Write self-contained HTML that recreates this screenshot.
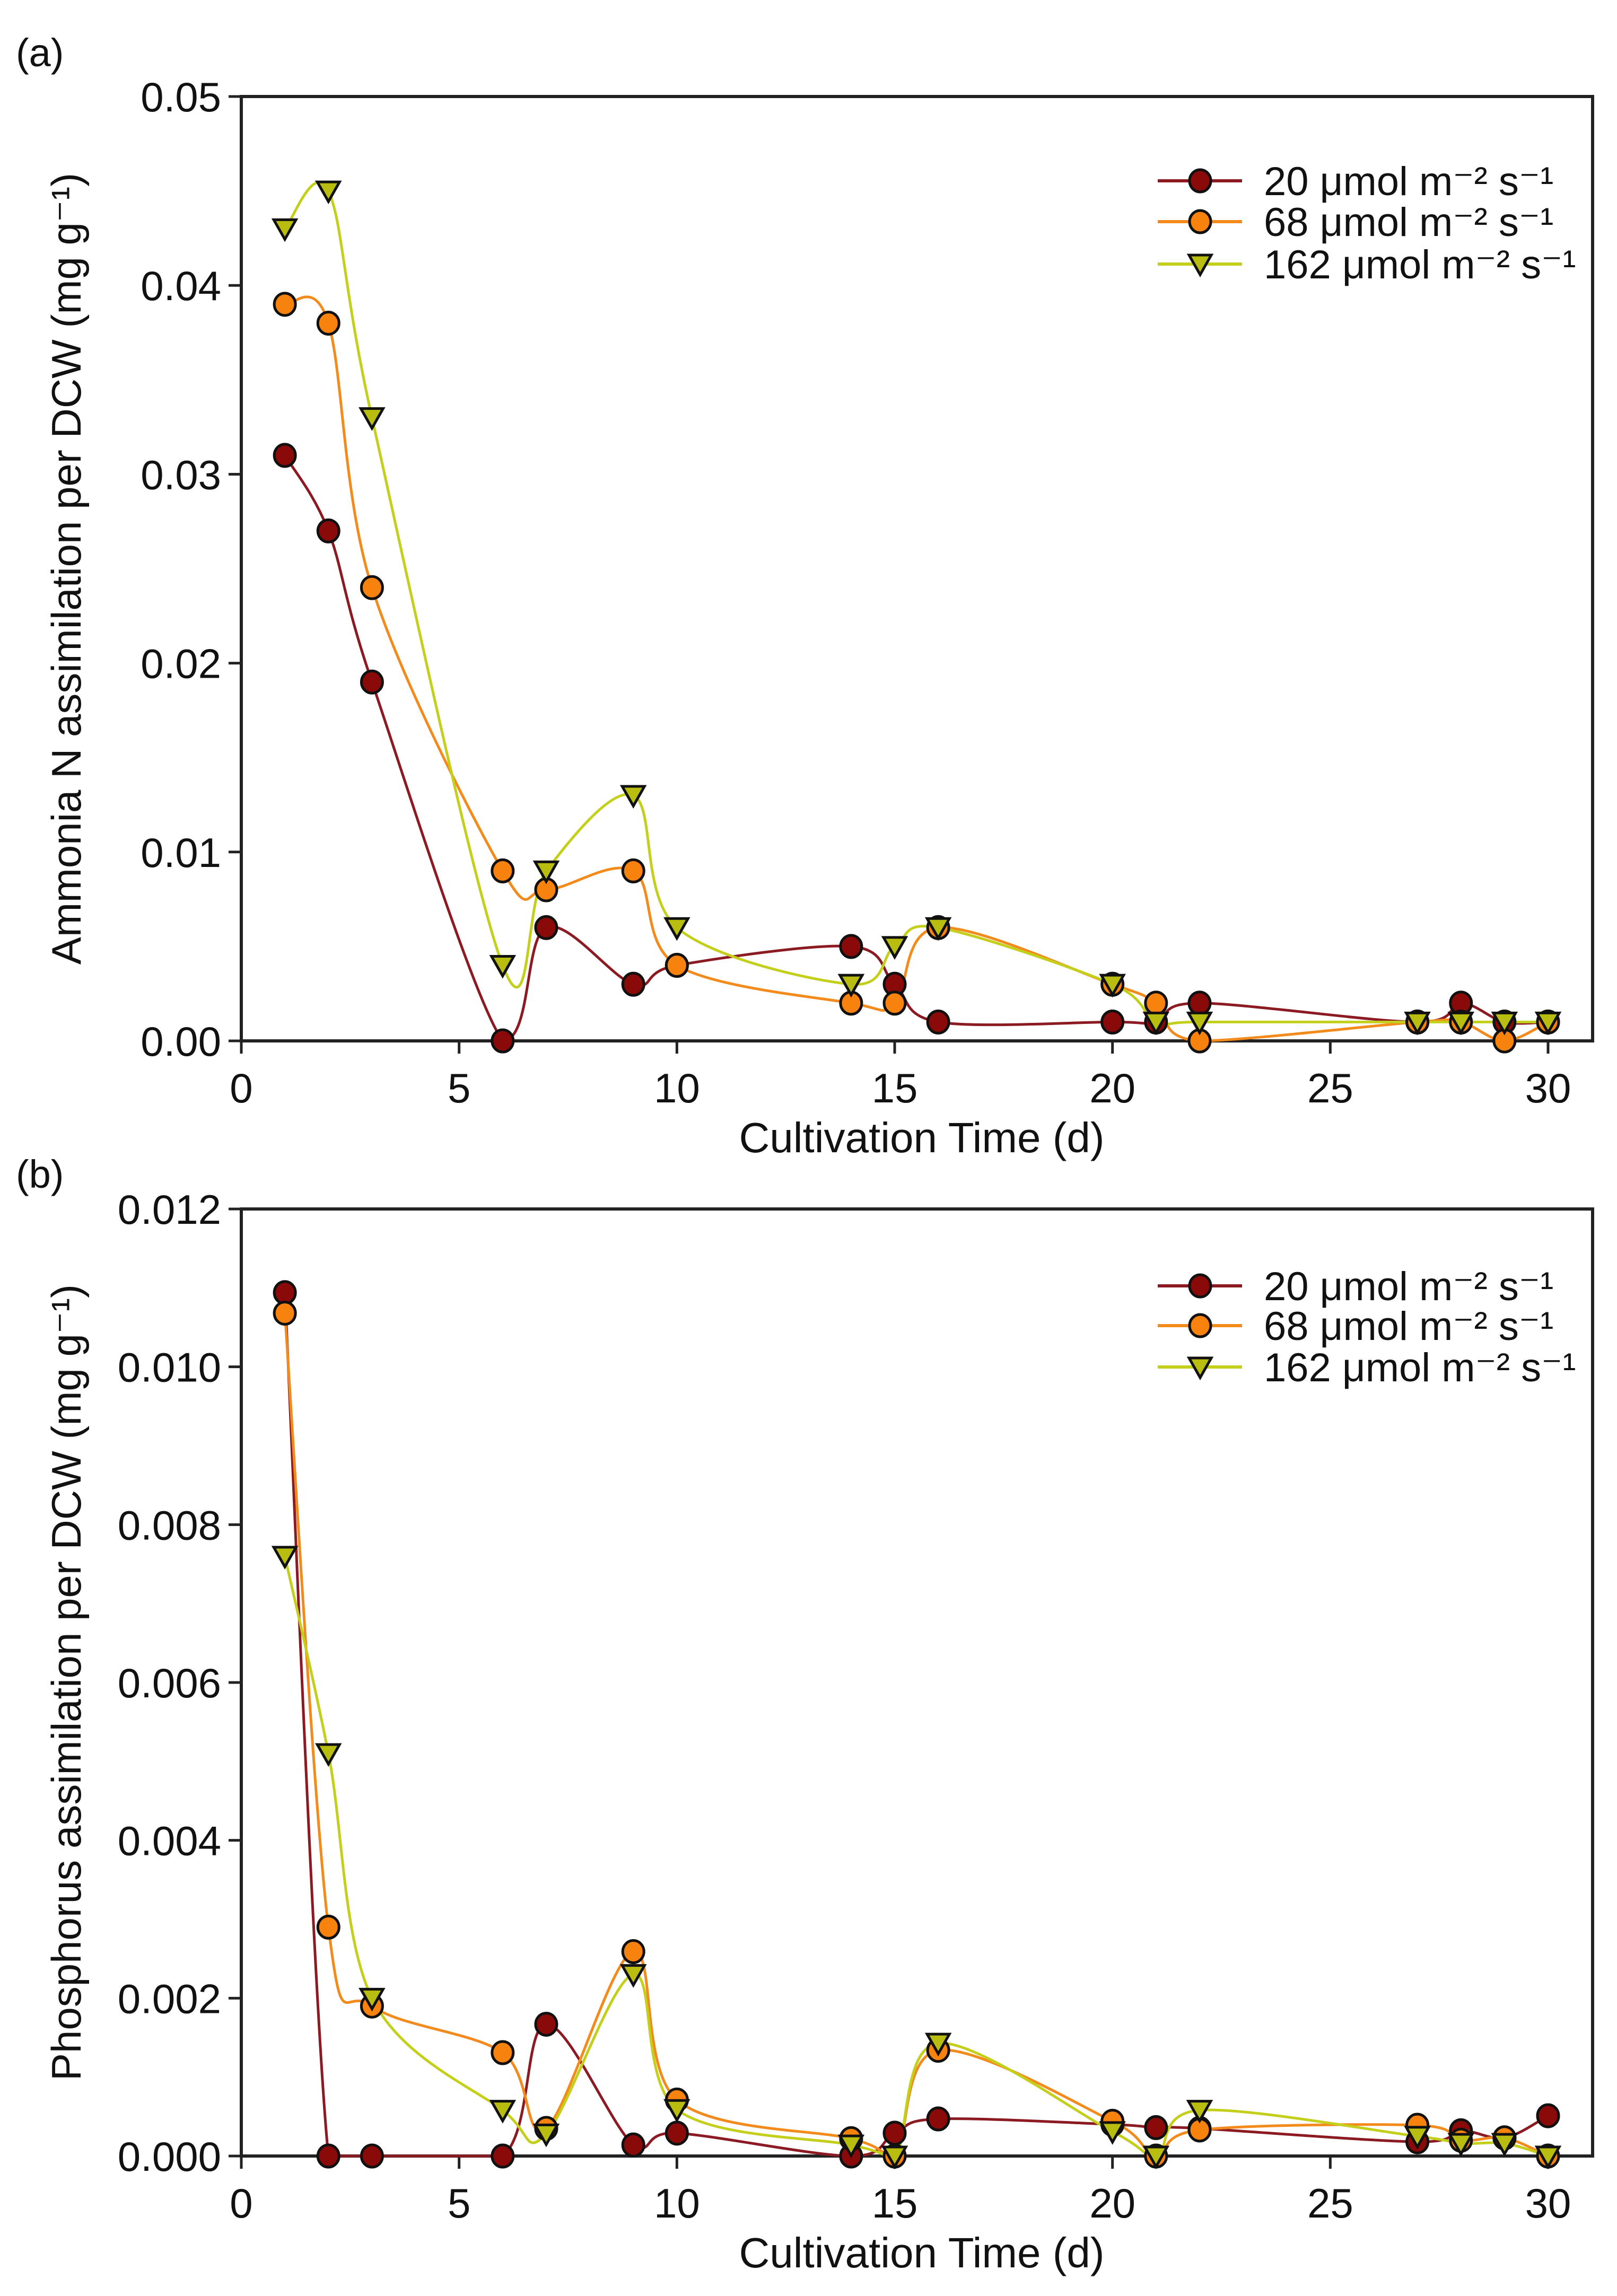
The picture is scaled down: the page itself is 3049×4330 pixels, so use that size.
<!DOCTYPE html>
<html><head><meta charset="utf-8"><style>
html,body{margin:0;padding:0;background:#fff}
svg{display:block}
text{font-family:"Liberation Sans",sans-serif;fill:#111}
</style></head><body>
<svg id="chart" width="3049" height="4330" viewBox="0 0 3049 4330" xmlns="http://www.w3.org/2000/svg"></svg>
<script>
// ---- data ----
const days20a = [1,2,3,6,7,9,10,14,15,16,20,21,22,27,28,29,30];
const vals20a = [0.031,0.027,0.019,0,0.006,0.003,0.004,0.005,0.003,0.001,0.001,0.001,0.002,0.001,0.002,0.001,0.001];
const days68a = [1,2,3,6,7,9,10,14,15,16,20,21,22,27,28,29,30];
const vals68a = [0.039,0.038,0.024,0.009,0.008,0.009,0.004,0.002,0.002,0.006,0.003,0.002,0,0.001,0.001,0,0.001];
const days162a = [1,2,3,6,7,9,10,14,15,16,20,21,22,27,28,29,30];
const vals162a = [0.043,0.045,0.033,0.004,0.009,0.013,0.006,0.003,0.005,0.006,0.003,0.001,0.001,0.001,0.001,0.001,0.001];

const days20b = [1,2,3,6,7,9,10,14,15,16,20,21,22,27,28,29,30];
const vals20b = [0.01094,0,0,0,0.00167,0.00014,0.00029,0,0.00029,0.00047,0.0004,0.00036,0.00035,0.00018,0.00032,0.00023,0.00051];
const days68b = [1,2,3,6,7,9,10,14,15,16,20,21,22,27,28,29,30];
const vals68b = [0.01068,0.0029,0.0019,0.00131,0.00035,0.00259,0.00071,0.00022,0,0.00134,0.00044,0,0.00033,0.00039,0.0002,0.00023,0];
const days162b = [1,2,3,6,7,9,10,14,15,16,20,21,22,27,28,29,30];
const vals162b = [0.0076,0.0051,0.002,0.00058,0.00028,0.0023,0.00059,0.00014,0,0.00143,0.00031,0,0.00058,0.00025,0.00016,0.00016,0];

const xTicks = [0,5,10,15,20,25,30];
const yTicksA = [0,0.01,0.02,0.03,0.04,0.05];
const yLabelsA = ["0.00","0.01","0.02","0.03","0.04","0.05"];
const yTicksB = [0,0.002,0.004,0.006,0.008,0.010,0.012];
const yLabelsB = ["0.000","0.002","0.004","0.006","0.008","0.010","0.012"];
const legendLabels = ["20 μmol m⁻² s⁻¹","68 μmol m⁻² s⁻¹","162 μmol m⁻² s⁻¹"];

const NS = "http://www.w3.org/2000/svg";
const svg = document.getElementById('chart');
function mk(tag, attrs, parent){
  const e = document.createElementNS(NS, tag);
  for (const k in attrs) e.setAttribute(k, attrs[k]);
  (parent||svg).appendChild(e);
  return e;
}
const lineCol = ["#8b1a22","#f28a1c","#c3cf1a"];
const fillCol = ["#8a0a0a","#f7820e","#b8bd10"];

function smoothPath(pts, yMax){
  let d = "M"+pts[0][0]+","+pts[0][1];
  for (let i=0;i<pts.length-1;i++){
    const p0 = pts[Math.max(0,i-1)], p1 = pts[i], p2 = pts[i+1], p3 = pts[Math.min(pts.length-1,i+2)];
    const t = 1/3;
    let c1y = p1[1]+(p2[1]-p0[1])*t/2, c2y = p2[1]-(p3[1]-p1[1])*t/2;
    const c1x = p1[0]+(p2[0]-p0[0])*t/2, c2x = p2[0]-(p3[0]-p1[0])*t/2;
    c1y = Math.min(c1y, yMax); c2y = Math.min(c2y, yMax);
    d += " C"+c1x+","+c1y+" "+c2x+","+c2y+" "+p2[0]+","+p2[1];
  }
  return d;
}

function marker(g, kind, cx, cy){
  let m;
  if (kind === 2){
    m = mk('polygon',{points:(cx-21)+","+(cy-17)+" "+(cx+21)+","+(cy-17)+" "+cx+","+(cy+20),fill:fillCol[2],stroke:"#111","stroke-width":5,"stroke-linejoin":"miter"},g);
  } else {
    m = mk('ellipse',{cx:cx,cy:cy,rx:20,ry:21,fill:fillCol[kind],stroke:"#111","stroke-width":5},g);
  }
  return m;
}

function panel(opt){
  const L=455, R=3003, T=opt.top, B=opt.bottom;
  const x0=455, x30=2919;
  const xs = d => x0 + (x30-x0)*d/30;
  const ys = v => B - (B-T)*v/opt.ymax;
  const g = mk('g',{});
  
  
  mk('rect',{x:L,y:T,width:R-L,height:B-T,fill:"none",stroke:"#222","stroke-width":6},g);
  xTicks.forEach(t=>{
    const tl = mk('line',{x1:xs(t),x2:xs(t),y1:B,y2:B+24,stroke:"#222","stroke-width":5},g);
    
    
    const tx = mk('text',{x:xs(t),y:B+116,"font-size":78,"text-anchor":"middle"},g);
    tx.textContent = t;
    
    
  });
  opt.yt.forEach((t,i)=>{
    const tl = mk('line',{x1:L-24,x2:L,y1:ys(t),y2:ys(t),stroke:"#222","stroke-width":5},g);
    
    
    const tx = mk('text',{x:L-38,y:ys(t)+28,"font-size":78,"text-anchor":"end"},g);
    tx.textContent = opt.yl[i];
    
    
  });
  const xt = mk('text',{x:1738,y:B+210,"font-size":80,"text-anchor":"middle"},g);
  xt.textContent = "Cultivation Time (d)";
  
  
  const yt = mk('text',{x:0,y:0,"font-size":78,"text-anchor":"middle",transform:"translate(152,"+((T+B)/2)+") rotate(-90)"},g);
  yt.textContent = opt.ytitle;
  
  
  const pl = mk('text',{x:30,y:opt.labelY,"font-size":74},g);
  pl.textContent = opt.label;
  
  

  opt.series.forEach((s,k)=>{
    const pts = s[0].map((d,i)=>[xs(d), ys(s[1][i])]);
    const p = mk('path',{d:smoothPath(pts, B),fill:"none",stroke:lineCol[k],"stroke-width":5},g);
    
    
  });
  opt.series.forEach((s,k)=>{
    s[0].forEach((d,i)=>{
      const m = marker(g,k,xs(d),ys(s[1][i]));
      
      
    });
  });
  const lg = mk('g',{},g);
  
  
  legendLabels.forEach((lab,k)=>{
    const y = opt.legY[k];
    const ln = mk('line',{x1:2183,x2:2342,y1:y,y2:y,stroke:lineCol[k],"stroke-width":6},lg);
    
    
    const m = marker(lg,k,2263,y);
    
    
    const tx = mk('text',{x:2383,y:y+27,"font-size":76},lg);
    tx.textContent = lab;
    
    
  });
}

panel({name:'panel-a',top:182,bottom:1963,ymax:0.05,yt:yTicksA,yl:yLabelsA,
  ytitle:"Ammonia N assimilation per DCW  (mg g⁻¹)",label:"(a)",labelY:125,
  legY:[341,418,498],
  series:[[days20a,vals20a],[days68a,vals68a],[days162a,vals162a]]});
panel({name:'panel-b',top:2280,bottom:4066,ymax:0.012,yt:yTicksB,yl:yLabelsB,
  ytitle:"Phosphorus assimilation per DCW  (mg g⁻¹)",label:"(b)",labelY:2240,
  legY:[2425,2500,2578],
  series:[[days20b,vals20b],[days68b,vals68b],[days162b,vals162b]]});
</script>
</body></html>
